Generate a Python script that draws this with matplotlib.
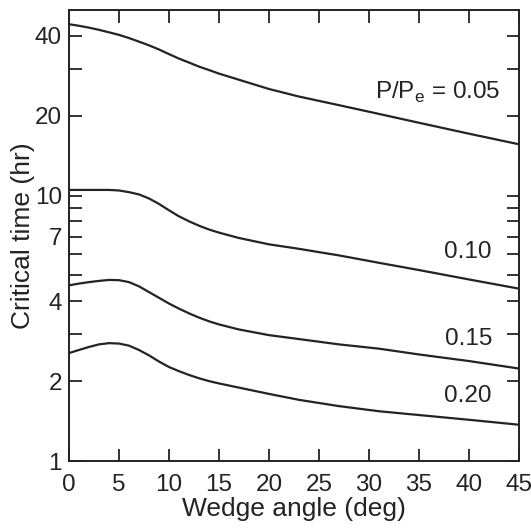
import matplotlib.pyplot as plt
from matplotlib.ticker import FixedLocator, FuncFormatter, NullLocator

plt.rcParams['font.family'] = ['Liberation Sans', 'DejaVu Sans']

# wedge angle (deg)
angle = [0, 1, 2, 3, 4, 5, 6, 7, 8, 9, 10, 11, 12, 13, 14, 15, 17, 20, 23, 27, 31, 35, 40, 45]

# critical time (hr) for each load ratio P/Pe
t_005 = [44.2, 43.6, 42.9, 42.1, 41.2, 40.3, 39.2, 38.0, 36.8, 35.5, 34.1, 32.8, 31.7, 30.6,
         29.7, 28.8, 27.3, 25.2, 23.6, 21.9, 20.3, 18.8, 17.1, 15.6]
t_010 = [10.5, 10.5, 10.5, 10.5, 10.5, 10.45, 10.3, 10.1, 9.75, 9.3, 8.8, 8.35, 8.0, 7.7,
         7.45, 7.25, 6.92, 6.55, 6.3, 5.95, 5.58, 5.24, 4.83, 4.46]
t_015 = [4.59, 4.66, 4.72, 4.77, 4.81, 4.8, 4.72, 4.55, 4.33, 4.12, 3.92, 3.75, 3.6, 3.47,
         3.36, 3.27, 3.13, 2.98, 2.88, 2.75, 2.65, 2.52, 2.38, 2.23]
t_020 = [2.55, 2.62, 2.69, 2.75, 2.78, 2.77, 2.72, 2.62, 2.5, 2.37, 2.26, 2.18, 2.11, 2.05,
         2.0, 1.96, 1.89, 1.79, 1.7, 1.61, 1.54, 1.49, 1.43, 1.37]

curves = [t_005, t_010, t_015, t_020]
labels = ['P/P$_\\mathregular{e}$ = 0.05', '0.10', '0.15', '0.20']
label_pos = [(43.1, 24.4), (42.3, 6.12), (42.3, 2.89), (42.3, 1.76)]

y_ticks = [1, 2, 3, 4, 5, 6, 7, 8, 9, 10, 20, 30, 40]
y_labeled = [1, 2, 4, 7, 10, 20, 40]
x_ticks = [0, 5, 10, 15, 20, 25, 30, 35, 40, 45]

ink = '#232323'
fs = 17.5

fig = plt.figure(figsize=(5.31, 5.29), dpi=100)
ax = fig.add_axes([0.1299, 0.1285, 0.8475, 0.8526])

for t in curves:
    ax.plot(angle, t, color=ink, lw=1.6, solid_joinstyle='round')

for text, (x, y) in zip(labels, label_pos):
    ax.text(x, y, text, ha='right', va='center', fontsize=fs, color=ink)

ax.set_yscale('log')
ax.set_xlim(0, 45)
ax.set_ylim(1, 50)

ax.xaxis.set_major_locator(FixedLocator(x_ticks))
ax.xaxis.set_minor_locator(NullLocator())
ax.yaxis.set_major_locator(FixedLocator(y_ticks))
ax.yaxis.set_minor_locator(NullLocator())
ax.yaxis.set_major_formatter(FuncFormatter(lambda v, p: '%d' % v if round(v) in y_labeled else ''))

ax.tick_params(direction='in', length=9, width=1.3, color=ink, labelcolor=ink,
               labelsize=fs, top=True, right=True)
ax.tick_params(axis='x', pad=9)
ax.tick_params(axis='y', pad=5)

for s in ax.spines.values():
    s.set_linewidth(1.4)
    s.set_color(ink)

ax.set_xlabel('Wedge angle (deg)', fontsize=fs + 1.5, color=ink, labelpad=1)
ax.set_ylabel('Critical time (hr)', fontsize=fs + 1.5, color=ink, labelpad=0)

fig.savefig('out.png', dpi=100)
